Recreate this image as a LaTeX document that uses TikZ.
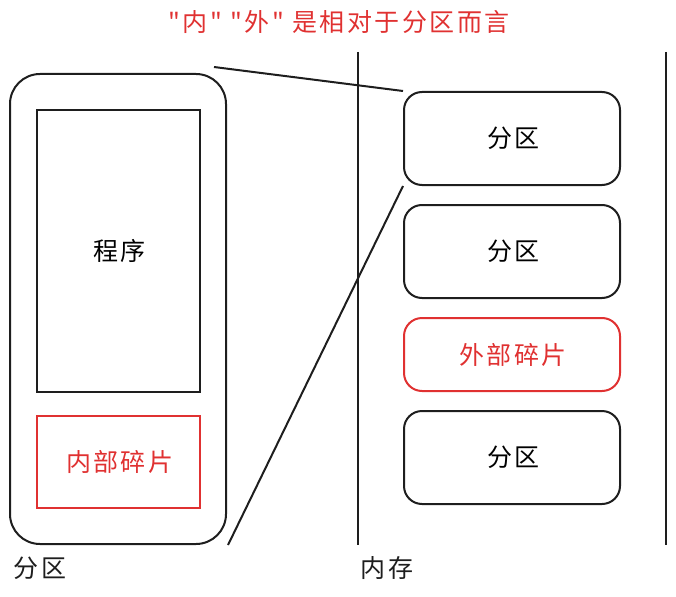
\documentclass[tikz,border=0pt]{standalone}
\usepackage{fontspec}
\usepackage{xcolor}
\usetikzlibrary{positioning}
\newfontfamily\cjk[LetterSpace=10]{Noto Sans CJK SC}
\definecolor{inkred}{HTML}{E03131}
\definecolor{ink}{HTML}{1E1E1E}

\begin{document}
\begin{tikzpicture}[x=1pt, y=-1pt,
		font=\cjk\fontsize{25}{29}\selectfont,
		box/.style={draw=ink, line width=2pt, inner sep=0pt},
		partbox/.style={box, rounded corners=18pt, minimum width=216pt, minimum height=93pt},
		fragbox/.style={draw=inkred, line width=1.8pt, inner sep=0pt, text=inkred}]
				\useasboundingbox (0,0) rectangle (676,596);
				
				\node[text=inkred] (title) at (339,22) {"内" "外" 是相对于分区而言};
				
				\node[box, rounded corners=30pt, minimum width=216pt, minimum height=470pt] (outer) at (118,309) {};
				\node[box, minimum width=163pt, minimum height=282pt] (prog) at (118.5,251) {\hspace{2.5pt}程序};
				\node[fragbox, minimum width=163pt, minimum height=92pt] (inner) at (118.5,462) {\hspace{2.5pt}内部碎片};
				\node[text=ink] (outerlbl) at (40,568) {分区};
				
				\coordinate (top) at (358,52);
				\coordinate (bot) at (358,545);
				\coordinate (rtop) at (666,52);
				\coordinate (rbot) at (666,545);
				\draw[ink, line width=2pt] (top) -- (bot);
				\draw[ink, line width=2pt] (rtop) -- (rbot);
				\node[text=ink] (memlbl) at (387,568) {内存};
				
				\node[partbox] (p1) at (512,138.5) {\hspace{2.5pt}分区};
				\node[partbox] (p2) at (512,251.5) {\hspace{2.5pt}分区};
				\node[partbox, draw=inkred, text=inkred, minimum height=73pt] (p3) at (512,354.5) {\hspace{2.5pt}外部碎片};
				\node[partbox] (p4) at (512,457.5) {\hspace{2.5pt}分区};
				
				\coordinate (zoomA) at (214,67);
				\coordinate (zoomB) at (228,545);
				\draw[ink, line width=2pt] (zoomA) -- (p1.north west);
				\draw[ink, line width=2pt] (zoomB) -- (p1.south west);
			\end{tikzpicture}
\end{document}
